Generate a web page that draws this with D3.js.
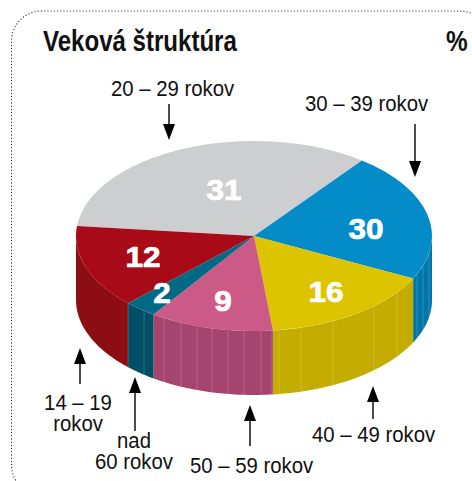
<!DOCTYPE html>
<html>
<head>
<meta charset="utf-8">
<script src="https://cdn.jsdelivr.net/npm/d3@7"></script>
<style>
  html, body { margin: 0; background: #fff; }
  svg { display: block; }
  text { font-family: "Liberation Sans", Arial, sans-serif; }
</style>
</head>
<body>
<div id="chart"></div>
<script>
const ageGroups = ['20 – 29 rokov', '30 – 39 rokov', '40 – 49 rokov', '50 – 59 rokov', 'nad 60 rokov', '14 – 19 rokov'];
const percents = [31, 30, 16, 9, 2, 12];
// The slices in the picture are not drawn true to their percentages, so the
// sweep of each one (degrees, on the unsquashed circle) is read off separately.
const sweeps = [121.4, 79.4, 57.3, 40.5, 10.7, 51];
const firstAngle = 276;
const topColors = ['#cdced0', '#038cc8', '#dcc400', '#cc5a86', '#006a86', '#a80a18'];
const sideColors = ['#b0b0b2', '#0076a8', '#c4ad00', '#a5446e', '#004f66', '#8d0d14'];
// x positions of the thin light seams on the side wall
const seams = [128, 144, 164, 181, 197, 212, 228, 244, 261, 272, 279, 301, 333, 374, 397, 417, 423, 429];

const width = 472, height = 481;
const cx = 254, cy = 236, rx = 178, ry = 95, depth = 64;

const svg = d3.select('#chart').append('svg')
  .attr('width', width)
  .attr('height', height);

svg.append('rect')
  .attr('x', 11.5).attr('y', 11)
  .attr('width', 478).attr('height', 484)
  .attr('rx', 30).attr('ry', 30)
  .attr('fill', 'none')
  .attr('stroke', '#222')
  .attr('stroke-width', 1.2)
  .attr('stroke-linecap', 'round')
  .attr('stroke-dasharray', '0.1 3.1');

const toRad = d => d * Math.PI / 180;
const pie = d3.pie().sort(null).value(d => d)
  .startAngle(toRad(firstAngle))
  .endAngle(toRad(firstAngle + 360));
const slices = pie(sweeps);

const px = a => cx + rx * Math.sin(a);
const py = a => cy - ry * Math.cos(a);

// Side wall of a slice: only the part of it facing the viewer. Angles run from
// 276 to 636 here, so the front of the pie is 450 to 630.
function wallPath(s) {
  const a0 = Math.max(s.startAngle, toRad(450));
  const a1 = Math.min(s.endAngle, toRad(630));
  if (a1 <= a0) return null;
  const p = d3.path();
  const n = 40;
  for (let i = 0; i <= n; i++) {
    const a = a0 + (a1 - a0) * i / n;
    if (i === 0) p.moveTo(px(a), py(a)); else p.lineTo(px(a), py(a));
  }
  for (let i = n; i >= 0; i--) {
    const a = a0 + (a1 - a0) * i / n;
    p.lineTo(px(a), py(a) + depth);
  }
  p.closePath();
  return p.toString();
}

svg.append('g').selectAll('path')
  .data(slices)
  .join('path')
  .attr('d', wallPath)
  .attr('fill', (d, i) => sideColors[i]);

// seams follow the front of the ellipse
svg.append('g').selectAll('line')
  .data(seams)
  .join('line')
  .attr('x1', d => d)
  .attr('x2', d => d)
  .attr('y1', d => cy + ry * Math.sqrt(1 - ((d - cx) / rx) ** 2))
  .attr('y2', d => cy + ry * Math.sqrt(1 - ((d - cx) / rx) ** 2) + depth)
  .attr('stroke', '#fff')
  .attr('stroke-opacity', 0.18)
  .attr('stroke-width', 1);

const arc = d3.arc().innerRadius(0).outerRadius(rx);
svg.append('g')
  .attr('transform', `translate(${cx},${cy}) scale(1,${ry / rx})`)
  .selectAll('path')
  .data(slices)
  .join('path')
  .attr('d', arc)
  .attr('fill', (d, i) => topColors[i]);

// Number labels on the slices
const valueX = [224, 366, 326, 223, 162, 143];
const valueY = [200, 239, 302, 311, 303, 267];
svg.append('g').selectAll('text')
  .data(percents)
  .join('text')
  .attr('transform', (d, i) => `translate(${valueX[i]},${valueY[i]}) scale(1.09,1)`)
  .attr('text-anchor', 'middle')
  .attr('font-size', 29)
  .attr('font-weight', 700)
  .attr('fill', '#fff')
  .attr('stroke', '#fff')
  .attr('stroke-width', 0.7)
  .text(d => d);

function label(text, x, y, size, weight, sx) {
  svg.append('text')
    .attr('transform', `translate(${x},${y}) scale(${sx},1)`)
    .attr('font-size', size)
    .attr('font-weight', weight || 400)
    .attr('fill', '#111')
    .text(text);
}

// Two line label, centred on x
function label2(line1, line2, x, y, gap) {
  const t = svg.append('text')
    .attr('transform', `translate(${x},${y}) scale(0.885,1)`)
    .attr('font-size', 23)
    .attr('fill', '#111')
    .attr('text-anchor', 'middle');
  t.append('tspan').attr('x', 0).attr('y', 0).text(line1);
  t.append('tspan').attr('x', 0).attr('y', gap).text(line2);
}

label('Veková štruktúra', 43, 51, 29, 700, 0.83);
label('%', 446, 51, 29, 700, 0.84);
label(ageGroups[0], 111, 95.5, 23, 400, 0.885);
label(ageGroups[1], 305, 111, 23, 400, 0.885);
label(ageGroups[2], 312, 442, 23, 400, 0.885);
label(ageGroups[3], 190, 473, 23, 400, 0.885);
label2('nad', '60 rokov', 134, 448, 20.5);
label2('14 – 19', 'rokov', 78, 410, 21.5);

// Arrows: [x, tail y, tip y]
const arrows = [[169, 104, 140], [415, 124, 177], [80, 384, 348], [135, 431, 377], [250, 446, 405], [373, 419, 386]];
svg.append('g').selectAll('g')
  .data(arrows)
  .join('g')
  .each(function (d) {
    const g = d3.select(this);
    const dir = d[2] > d[1] ? 1 : -1;
    g.append('line')
      .attr('x1', d[0]).attr('x2', d[0])
      .attr('y1', d[1]).attr('y2', d[2] - dir * 10)
      .attr('stroke', '#000').attr('stroke-width', 1.4);
    g.append('path')
      .attr('d', `M${d[0]},${d[2]}L${d[0] - 6},${d[2] - dir * 16}L${d[0] + 6},${d[2] - dir * 16}Z`)
      .attr('fill', '#000');
  });
</script>
</body>
</html>
